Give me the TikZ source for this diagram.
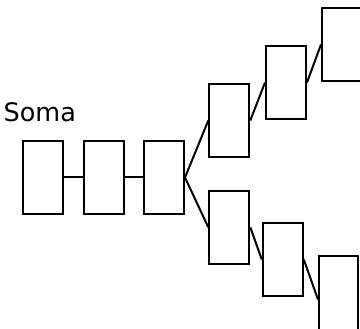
\documentclass[tikz,border=0pt]{standalone}
\usepackage{fontspec}
\setmainfont{DejaVu Sans}
\usetikzlibrary{positioning}

\begin{document}
\begin{tikzpicture}[x=1pt,y=-1pt]
\tikzstyle{every node}+=[inner sep=0pt]
\tikzstyle{seg}=[draw=black, line width=2pt, minimum width=40pt, minimum height=73pt]
\useasboundingbox (0,0) rectangle (360,329);
% soma and trunk
\node [anchor=base west, font=\fontsize{25.5}{30}\selectfont] (label) at (3.5,122) {Soma};
\node [seg] (s1) at (42.7,177.5) {};
\node [seg] (s2) at (104.3,177.5) {};
\node [seg] (s3) at (164,177.5) {};
% upper branch
\node [seg] (u1) at (229.3,120.5) {};
\node [seg] (u2) at (286,82.5) {};
\node [seg] (u3) at (342,44.5) {};
% lower branch
\node [seg] (d1) at (229.3,227.3) {};
\node [seg] (d2) at (282.8,259.5) {};
\node [seg, minimum width=39pt, minimum height=80pt] (d3) at (338.5,296) {};
\draw [line width=2pt] (s1.east) -- (s2.west);
\draw [line width=2pt] (s2.east) -- (s3.west);
\draw [line width=2pt] (s3.east) -- (u1.west);
\draw [line width=2pt] (u1.east) -- (u2.west);
\draw [line width=2pt] (u2.east) -- (u3.west);
\draw [line width=2pt] (s3.east) -- (d1.west);
\draw [line width=2pt] (d1.east) -- (d2.west);
\draw [line width=2pt] (d2.east) -- ([yshift=-3.5pt]d3.west);
\end{tikzpicture}
\end{document}
